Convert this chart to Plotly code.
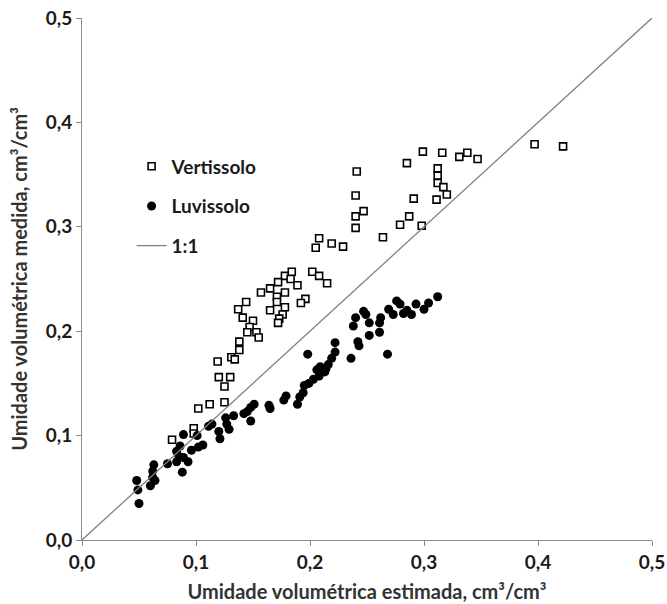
import plotly.graph_objects as go

# Vertissolo (open squares)
vert_x = [0.397, 0.422, 0.299, 0.316, 0.338, 0.331, 0.347, 0.285, 0.312, 0.312,
          0.312, 0.317, 0.320, 0.291, 0.311, 0.287, 0.279, 0.298, 0.264, 0.241,
          0.240, 0.247, 0.240, 0.240, 0.208, 0.219, 0.229, 0.205, 0.202, 0.208,
          0.215, 0.196, 0.192, 0.178, 0.183, 0.184, 0.189, 0.172, 0.165, 0.157,
          0.178, 0.171, 0.171, 0.178, 0.165, 0.176, 0.173, 0.172, 0.144, 0.137,
          0.141, 0.150, 0.147, 0.145, 0.153, 0.155, 0.138, 0.138, 0.131, 0.134,
          0.119, 0.120, 0.130, 0.125, 0.125, 0.112, 0.102, 0.098, 0.098, 0.079]
vert_y = [0.379, 0.377, 0.372, 0.371, 0.371, 0.367, 0.365, 0.361, 0.356, 0.349,
          0.342, 0.338, 0.331, 0.327, 0.326, 0.310, 0.302, 0.301, 0.290, 0.353,
          0.330, 0.315, 0.310, 0.299, 0.289, 0.284, 0.281, 0.280, 0.257, 0.253,
          0.246, 0.231, 0.227, 0.253, 0.250, 0.257, 0.244, 0.247, 0.241, 0.237,
          0.237, 0.233, 0.228, 0.223, 0.220, 0.216, 0.212, 0.208, 0.228, 0.221,
          0.213, 0.210, 0.204, 0.199, 0.199, 0.194, 0.190, 0.182, 0.175, 0.173,
          0.171, 0.156, 0.156, 0.147, 0.132, 0.130, 0.126, 0.107, 0.102, 0.096]

# Luvissolo (filled circles)
luv_x = [0.312, 0.304, 0.300, 0.293, 0.289, 0.285, 0.282, 0.279, 0.276, 0.273,
         0.269, 0.262, 0.261, 0.261, 0.252, 0.252, 0.249, 0.247, 0.240, 0.238,
         0.242, 0.243, 0.268, 0.236, 0.222, 0.222, 0.219, 0.198, 0.216, 0.214,
         0.209, 0.206, 0.208, 0.213, 0.203, 0.199, 0.195, 0.194, 0.191, 0.179,
         0.177, 0.189, 0.164, 0.165, 0.151, 0.148, 0.145, 0.142, 0.133, 0.126,
         0.148, 0.129, 0.127, 0.120, 0.121, 0.114, 0.111, 0.106, 0.102, 0.101,
         0.096, 0.089, 0.086, 0.083, 0.085, 0.083, 0.089, 0.093, 0.088, 0.075,
         0.063, 0.062, 0.062, 0.064, 0.060, 0.048, 0.049, 0.050]
luv_y = [0.233, 0.227, 0.221, 0.226, 0.216, 0.220, 0.217, 0.226, 0.229, 0.216,
         0.221, 0.213, 0.208, 0.199, 0.196, 0.208, 0.216, 0.219, 0.213, 0.205,
         0.190, 0.186, 0.178, 0.174, 0.189, 0.180, 0.174, 0.178, 0.168, 0.164,
         0.166, 0.163, 0.157, 0.161, 0.154, 0.150, 0.148, 0.141, 0.137, 0.138,
         0.134, 0.130, 0.129, 0.126, 0.130, 0.127, 0.123, 0.121, 0.119, 0.117,
         0.114, 0.106, 0.111, 0.104, 0.097, 0.111, 0.109, 0.091, 0.089, 0.100,
         0.086, 0.101, 0.090, 0.085, 0.080, 0.075, 0.079, 0.075, 0.065, 0.073,
         0.072, 0.066, 0.060, 0.057, 0.052, 0.057, 0.048, 0.035]

line_x = [0.0, 0.5]
line_y = [0.0, 0.5]

tick_vals = [0.0, 0.1, 0.2, 0.3, 0.4, 0.5]
tick_text = ["0,0", "0,1", "0,2", "0,3", "0,4", "0,5"]

FONT = "Lato, 'Open Sans', sans-serif"

fig = go.Figure()
fig.add_trace(go.Scatter(
    x=vert_x, y=vert_y, mode="markers", name="Vertissolo", legendgroup="a",
    marker=dict(symbol="square", size=7, color="white",
                line=dict(color="black", width=1.6))))
fig.add_trace(go.Scatter(
    x=luv_x, y=luv_y, mode="markers", name="Luvissolo", legendgroup="b",
    marker=dict(symbol="circle", size=9, color="black",
                line=dict(color="black", width=0))))
fig.add_trace(go.Scatter(
    x=line_x, y=line_y, mode="lines", name="1:1", legendgroup="c",
    line=dict(color="#808080", width=1.3)))

axis_common = dict(
    range=[0, 0.5], tickvals=tick_vals, ticktext=tick_text, automargin=False,
    showgrid=False, zeroline=False, showline=True, linecolor="#8c8c8c",
    linewidth=1, ticks="outside", ticklen=5, tickcolor="#8c8c8c",
    tickfont=dict(family=FONT, size=19, color="#1a1a1a", weight="bold"),
)

fig.update_layout(
    width=667, height=604,
    margin=dict(l=82, r=15, t=18, b=64),
    paper_bgcolor="white", plot_bgcolor="white",
    showlegend=True,
    legend=dict(x=0.087, y=0.752, xanchor="left", yanchor="top",
                bgcolor="rgba(0,0,0,0)", tracegroupgap=12,
                font=dict(family=FONT, size=19, color="#1a1a1a", weight="bold")),
    xaxis=dict(**axis_common,
               title=dict(text="Umidade volumétrica estimada, cm³/cm³", standoff=13,
                          font=dict(family=FONT, size=20, color="#333333", weight="bold"))),
    yaxis=dict(**axis_common,
               title=dict(text="Umidade volumétrica medida, cm³/cm³", standoff=12,
                          font=dict(family=FONT, size=20, color="#333333", weight="bold"))),
)

fig.write_html("out.html")
